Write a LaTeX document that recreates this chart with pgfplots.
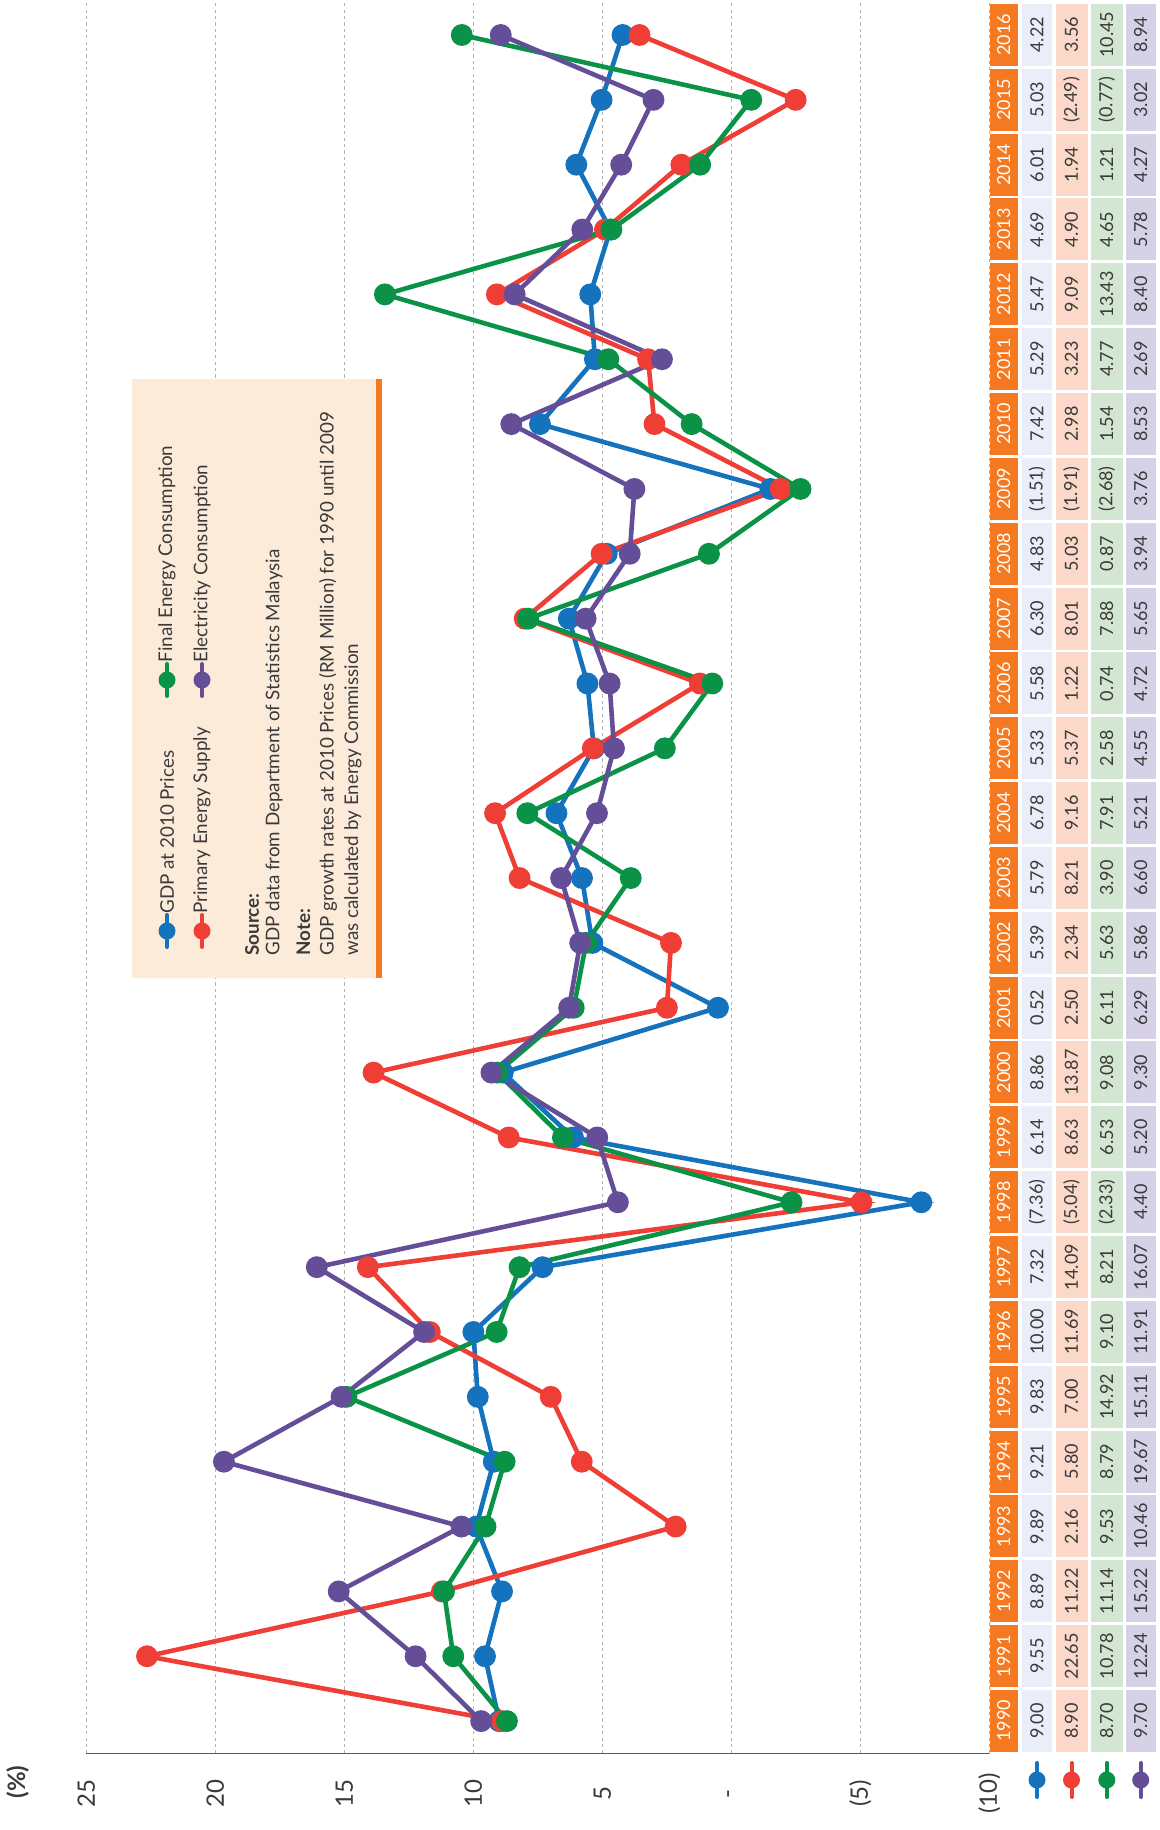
\documentclass[border=0pt]{standalone}
\usepackage{pgfplots}
\pgfplotsset{compat=1.18}
\usepackage{pgfplotstable}
\usepackage{fontspec}
\setmainfont{Lato}
\definecolor{cBlue}{HTML}{1572BD}
\definecolor{cRed}{HTML}{EE3E35}
\definecolor{cGreen}{HTML}{0A9247}
\definecolor{cPurple}{HTML}{654E98}
\definecolor{cOrange}{HTML}{F47920}
\definecolor{bBlue}{HTML}{E9EEF8}
\definecolor{bRed}{HTML}{FBD8C8}
\definecolor{bGreen}{HTML}{D3E6D1}
\definecolor{bPurple}{HTML}{D6D1E6}
\definecolor{bLegend}{HTML}{FDEBDA}
\definecolor{txt}{HTML}{3A3A3A}
\pgfkeys{/pgf/number format/assume math mode=true}

\pgfplotstableread{
year gdp pes fec elec
1990 9.00 8.90 8.70 9.70
1991 9.55 22.65 10.78 12.24
1992 8.89 11.22 11.14 15.22
1993 9.89 2.16 9.53 10.46
1994 9.21 5.80 8.79 19.67
1995 9.83 7.00 14.92 15.11
1996 10.00 11.69 9.10 11.91
1997 7.32 14.09 8.21 16.07
1998 -7.36 -5.04 -2.33 4.40
1999 6.14 8.63 6.53 5.20
2000 8.86 13.87 9.08 9.30
2001 0.52 2.50 6.11 6.29
2002 5.39 2.34 5.63 5.86
2003 5.79 8.21 3.90 6.60
2004 6.78 9.16 7.91 5.21
2005 5.33 5.37 2.58 4.55
2006 5.58 1.22 0.74 4.72
2007 6.30 8.01 7.88 5.65
2008 4.83 5.03 0.87 3.94
2009 -1.51 -1.91 -2.68 3.76
2010 7.42 2.98 1.54 8.53
2011 5.29 3.23 4.77 2.69
2012 5.47 9.09 13.43 8.40
2013 4.69 4.90 4.65 5.78
2014 6.01 1.94 1.21 4.27
2015 5.03 -2.49 -0.77 3.02
2016 4.22 3.56 10.45 8.94
}\data

\newcommand\fmtval[1]{%
  \pgfmathsetmacro\tmpv{#1}%
  \pgfmathtruncatemacro\isneg{(\tmpv<0)?1:0}%
  \pgfmathsetmacro\absv{abs(\tmpv)}%
  \ifnum\isneg=1 (\pgfmathprintnumber[fixed,fixed zerofill,precision=2]{\absv})\else\pgfmathprintnumber[fixed,fixed zerofill,precision=2]{\absv}\fi}

\begin{document}
\begin{tikzpicture}
\begin{axis}[
  x=12.9pt, y=32.425pt, x dir=reverse,
  xmin=-10, xmax=25, ymin=1989.5, ymax=2016.54,
  axis x line*=bottom, axis y line=none,
  axis line style={draw=black!65, line width=0.9pt, -},
  xtick={-10,-5,0,5,10,15,20,25},
  xticklabels={(10),(5),-,5,10,15,20,25},
  major tick length=0pt,
  xticklabel style={yshift=-20pt, rotate=90, anchor=center, font=\fontsize{12}{14}\selectfont, text=txt},
  xmajorgrids,
  grid style={dash pattern=on 1.6pt off 1.6pt, draw=black!30, line width=0.5pt},
  ytick=\empty,
  clip=false,
  every axis plot/.append style={line width=2.3pt, mark=*, mark size=4.3pt},
]
\addplot[cBlue, mark options={fill=cBlue, draw=cBlue}] table[x=gdp, y=year]{\data};
\addplot[cRed, mark options={fill=cRed, draw=cRed}] table[x=pes, y=year]{\data};
\addplot[cGreen, mark options={fill=cGreen, draw=cGreen}] table[x=fec, y=year]{\data};
\addplot[cPurple, mark options={fill=cPurple, draw=cPurple}] table[x=elec, y=year]{\data};
\coordinate (TL) at (axis cs:25,2016.54);
\end{axis}

\begin{scope}[shift={(TL)}, xshift=-43.2pt, x=0.5pt, y=-0.5pt]
  % data table
  \foreach \r in {0,...,26} {
    \pgfmathsetmacro\cy{1721-64.85*\r}
    \pgfplotstablegetelem{\r}{year}\of\data
    \fill[cOrange] (989.6,\cy-31) rectangle (1017.6,\cy+31);
    \node[rotate=90, text=white, font=\fontsize{9}{10}\selectfont, inner sep=0] at (1003.6,\cy) {\pgfplotsretval};
    \foreach \col/\xa/\xb/\fc in {gdp/1022/1052/bBlue, pes/1055.5/1087.5/bRed, fec/1091/1122.5/bGreen, elec/1126/1155.5/bPurple} {
      \fill[\fc] (\xa,\cy-31) rectangle (\xb,\cy+31);
      \pgfplotstablegetelem{\r}{\col}\of\data
      \node[rotate=90, text=txt, font=\fontsize{9}{10}\selectfont, inner sep=0] at ({(\xa+\xb)/2},\cy) {\fmtval{\pgfplotsretval}};
    }
  }
  % pins under table
  \foreach \xc/\cc in {1037/cBlue,1071.5/cRed,1106.8/cGreen,1140.7/cPurple} {
    \draw[\cc, line width=2pt, line cap=round] (\xc,1763) -- (\xc,1797);
    \fill[\cc] (\xc,1780) circle[radius=4.25pt];
  }
  % (%) label
  \node[rotate=90, text=txt, font=\bfseries\fontsize{12}{14}\selectfont] at (17.5,1782) {(\%)};
  % legend box
  \fill[bLegend] (132,379) rectangle (381.6,978);
  \fill[cOrange] (376,379) rectangle (382,978);
  \foreach \xc/\yc/\cc in {167/931/cBlue, 202/931/cRed, 167/680/cGreen, 202/680/cPurple} {
    \draw[\cc, line width=2pt, line cap=round] (\xc,\yc-16) -- (\xc,\yc+16);
    \fill[\cc] (\xc,\yc) circle[radius=4.25pt];
  }
  \begin{scope}[every node/.style={rotate=90, anchor=west, inner sep=0, text=txt, font=\fontsize{9.4}{11}\selectfont}]
    \node at (167,914) {GDP at 2010 Prices};
    \node at (202,914) {Primary Energy Supply};
    \node at (167,663) {Final Energy Consumption};
    \node at (202,663) {Electricity Consumption};
    \node[font=\bfseries\fontsize{9.4}{11}\selectfont] at (252,956) {Source:};
    \node at (274,956) {GDP data from Department of Statistics Malaysia};
    \node[font=\bfseries\fontsize{9.4}{11}\selectfont] at (303.5,956) {Note:};
    \node at (328,956) {GDP growth rates at 2010 Prices (RM Million) for 1990 until 2009};
    \node at (353,956) {was calculated by Energy Commission};
  \end{scope}
  \pgfresetboundingbox
  \path[use as bounding box] (0,0) rectangle (1160,1830);
\end{scope}
\end{tikzpicture}
\end{document}
